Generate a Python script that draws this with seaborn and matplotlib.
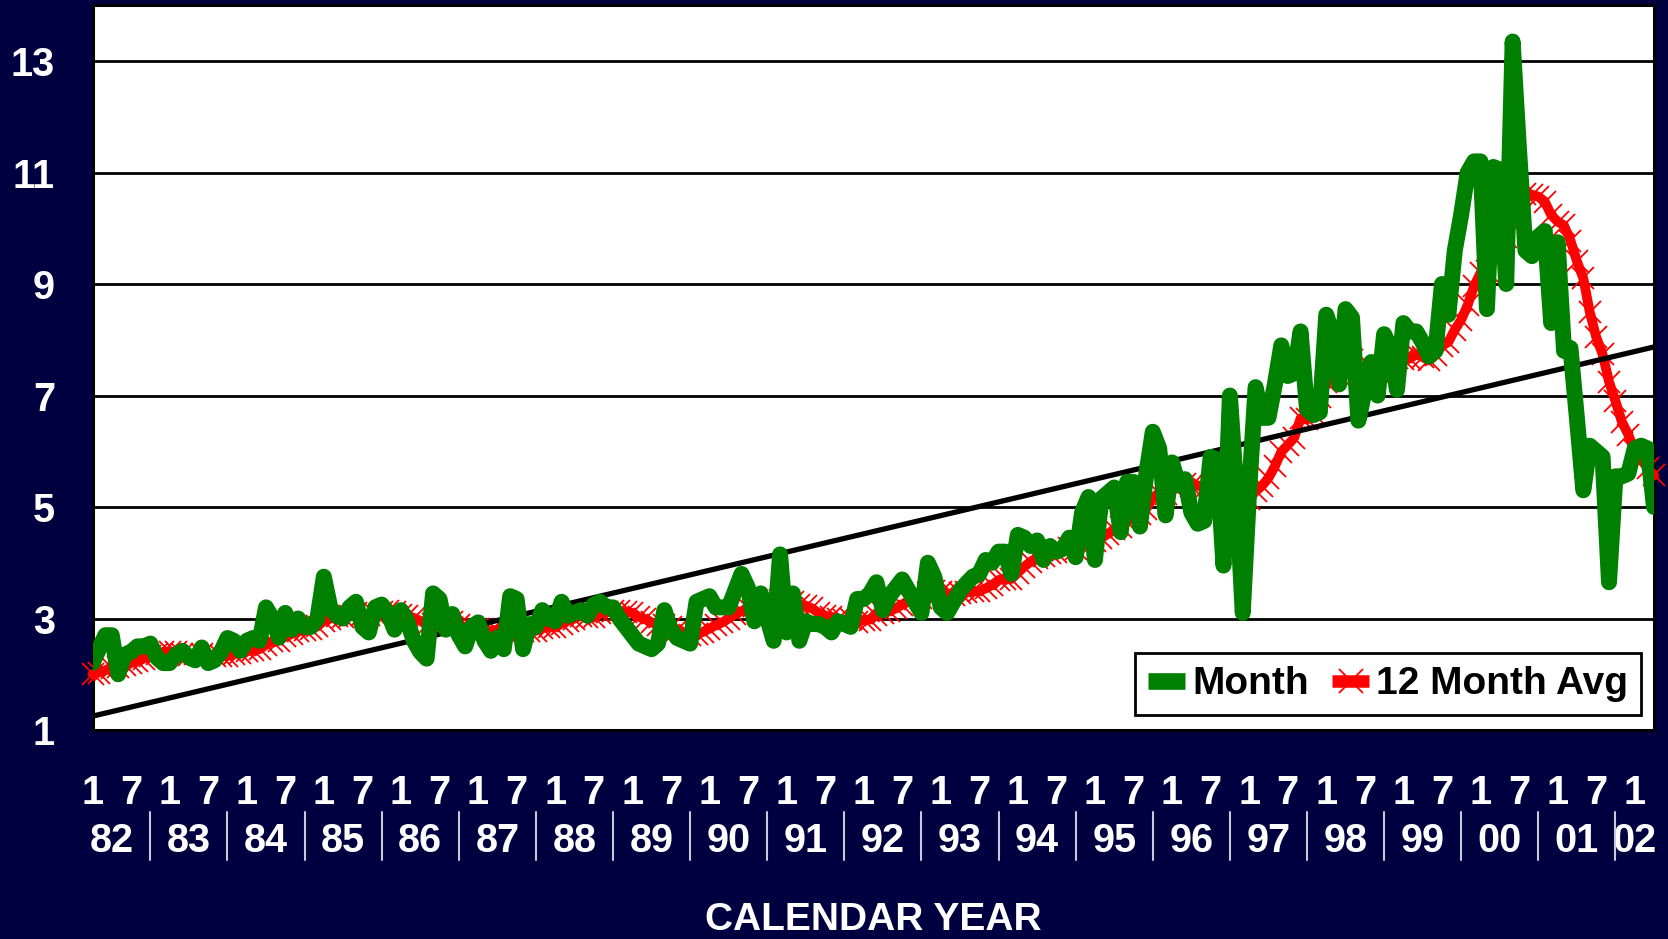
import numpy as np
import pandas as pd
import matplotlib
matplotlib.use("Agg")
import matplotlib.pyplot as plt
import seaborn as sns
from matplotlib.lines import Line2D
from matplotlib.transforms import blended_transform_factory

# ---------------- data ----------------
# Monthly values, Jan 1982 .. Apr 2002 (one row per calendar year)
monthly = [
    2.20, 2.45, 2.70, 2.70, 2.00, 2.35, 2.40, 2.50, 2.50, 2.55, 2.30, 2.20,   # 1982
    2.20, 2.35, 2.42, 2.30, 2.25, 2.48, 2.20, 2.25, 2.40, 2.65, 2.60, 2.42,   # 1983
    2.60, 2.65, 2.60, 3.20, 3.00, 2.66, 3.10, 2.80, 3.00, 2.85, 2.85, 3.00,   # 1984
    3.75, 3.20, 3.05, 3.00, 3.20, 3.30, 2.85, 2.75, 3.20, 3.25, 3.10, 2.80,   # 1985
    3.15, 2.95, 2.60, 2.40, 2.28, 3.45, 3.35, 2.80, 3.08, 2.70, 2.50, 2.85,   # 1986
    2.93, 2.60, 2.42, 2.66, 2.45, 3.40, 3.35, 2.45, 2.90, 2.85, 3.15, 3.00,   # 1987
    2.95, 3.30, 3.05, 3.10, 3.15, 3.05, 3.25, 3.30, 3.20, 3.20, 3.00, 2.85,   # 1988
    2.70, 2.55, 2.50, 2.45, 2.55, 3.15, 2.80, 2.65, 2.60, 2.55, 3.30, 3.35,   # 1989
    3.40, 3.20, 3.20, 3.20, 3.50, 3.80, 3.55, 2.95, 3.45, 3.00, 2.60, 4.15,   # 1990
    2.75, 3.45, 2.60, 2.95, 2.90, 2.90, 2.85, 2.75, 2.95, 2.90, 2.85, 3.35,   # 1991
    3.35, 3.45, 3.65, 3.15, 3.40, 3.55, 3.70, 3.50, 3.30, 3.10, 4.00, 3.75,   # 1992
    3.20, 3.10, 3.30, 3.50, 3.63, 3.75, 3.80, 4.05, 4.00, 4.20, 4.20, 3.80,   # 1993
    4.50, 4.45, 4.30, 4.40, 4.05, 4.30, 4.20, 4.25, 4.45, 4.10, 4.90, 5.18,   # 1994
    4.05, 5.15, 5.25, 5.35, 4.55, 5.45, 5.45, 4.65, 5.60, 6.35, 6.05, 4.85,   # 1995
    5.80, 5.40, 5.50, 4.90, 4.70, 4.75, 5.90, 5.85, 3.95, 7.00, 5.30, 3.10,   # 1996
    5.30, 7.15, 6.60, 6.60, 7.20, 7.90, 7.35, 7.40, 8.15, 6.75, 6.65, 6.70,   # 1997
    8.45, 8.10, 7.20, 8.55, 8.40, 6.55, 7.10, 7.60, 7.00, 8.10, 7.85, 7.10,   # 1998
    8.30, 8.15, 8.15, 7.95, 7.70, 7.80, 9.00, 8.45, 9.60, 10.25, 11.00, 11.20,  # 1999
    11.20, 8.55, 11.10, 11.05, 9.00, 13.35, 11.40, 9.60, 9.50, 9.85, 9.95, 8.30,  # 2000
    9.75, 7.80, 7.85, 6.60, 5.30, 6.10, 6.00, 5.90, 3.65, 5.55, 5.55, 5.60,   # 2001
    6.05, 6.10, 6.05, 5.00,                                                   # 2002
]

avg12 = [
    2.00, 2.03, 2.07, 2.12, 2.13, 2.17, 2.20, 2.24, 2.28, 2.32, 2.36, 2.40,
    2.40, 2.40, 2.37, 2.34, 2.36, 2.37, 2.35, 2.33, 2.33, 2.33, 2.36, 2.38,
    2.41, 2.44, 2.45, 2.53, 2.59, 2.60, 2.68, 2.72, 2.77, 2.79, 2.81, 2.86,
    2.96, 3.00, 3.04, 3.02, 3.04, 3.09, 3.07, 3.07, 3.08, 3.12, 3.14, 3.12,
    3.07, 3.05, 3.01, 2.96, 2.89, 2.90, 2.94, 2.94, 2.93, 2.89, 2.84, 2.84,
    2.82, 2.80, 2.78, 2.80, 2.82, 2.81, 2.81, 2.78, 2.77, 2.78, 2.83, 2.85,
    2.85, 2.91, 2.96, 3.00, 3.05, 3.03, 3.02, 3.09, 3.11, 3.14, 3.13, 3.12,
    3.10, 3.03, 2.99, 2.93, 2.88, 2.89, 2.85, 2.80, 2.75, 2.70, 2.72, 2.76,
    2.82, 2.88, 2.93, 3.00, 3.08, 3.13, 3.19, 3.22, 3.29, 3.33, 3.27, 3.33,
    3.28, 3.30, 3.25, 3.23, 3.18, 3.10, 3.05, 3.03, 2.99, 2.98, 3.00, 2.93,
    2.98, 2.98, 3.07, 3.09, 3.13, 3.18, 3.25, 3.32, 3.35, 3.36, 3.46, 3.49,
    3.48, 3.45, 3.42, 3.45, 3.47, 3.49, 3.49, 3.54, 3.60, 3.69, 3.71, 3.71,
    3.82, 3.93, 4.02, 4.09, 4.13, 4.17, 4.20, 4.22, 4.26, 4.25, 4.31, 4.42,
    4.39, 4.44, 4.52, 4.60, 4.64, 4.74, 4.84, 4.88, 4.97, 5.16, 5.26, 5.23,
    5.38, 5.40, 5.42, 5.38, 5.39, 5.33, 5.37, 5.47, 5.33, 5.39, 5.33, 5.18,
    5.14, 5.28, 5.38, 5.52, 5.73, 5.99, 6.11, 6.24, 6.59, 6.57, 6.68, 6.98,
    7.24, 7.32, 7.37, 7.53, 7.63, 7.52, 7.50, 7.52, 7.42, 7.53, 7.63, 7.67,
    7.65, 7.66, 7.74, 7.69, 7.63, 7.73, 7.89, 7.96, 8.18, 8.36, 8.62, 8.96,
    9.20, 9.24, 9.48, 9.74, 9.85, 10.31, 10.51, 10.61, 10.60, 10.57, 10.48, 10.24,
    10.12, 10.05, 9.78, 9.41, 9.10, 8.50, 8.05, 7.74, 7.25, 6.90, 6.53, 6.30,
    6.00, 5.85, 5.70, 5.57,
]

year_labels = ["82", "83", "84", "85", "86", "87", "88", "89", "90", "91",
               "92", "93", "94", "95", "96", "97", "98", "99", "00", "01", "02"]
month_tick_labels = ["1", "7"] * 20 + ["1"]
ytick_vals = [1, 3, 5, 7, 9, 11, 13]
series_names = ["Month", "12 Month Avg"]

# ---------------- style ----------------
NAVY = "#000040"
GREEN = "#008000"
RED = "#FF0000"

sns.set_style("white")
plt.rcParams["font.family"] = ["Liberation Sans", "DejaVu Sans"]
plt.rcParams["font.weight"] = "bold"

W, H = 1668, 939
fig = plt.figure(figsize=(W / 100, H / 100), dpi=100, facecolor=NAVY)
left, right, top, bottom = 92.5, 1654, 5.3, 730
ax = fig.add_axes([left / W, 1 - bottom / H, (right - left) / W, (bottom - top) / H])
ax.set_facecolor("white")

df = pd.DataFrame({"idx": np.arange(len(monthly)), "Month": monthly, "Avg": avg12})

sns.lineplot(data=df, x="idx", y="Avg", ax=ax, color=RED, lw=7, marker="x",
             markersize=16, markeredgewidth=1.3, markeredgecolor=RED,
             clip_on=False, zorder=3, legend=False)
sns.regplot(data=df, x="idx", y="Month", ax=ax, scatter=False, ci=None, truncate=True,
            line_kws=dict(color="black", lw=3.8, zorder=4))
sns.lineplot(data=df, x="idx", y="Month", ax=ax, color=GREEN, lw=11.5,
             solid_joinstyle="round", zorder=5, legend=False)

# ---------------- axes ----------------
n = len(monthly)
ax.set_xlim(0, n - 1)
ax.set_ylim(1, 14)
ax.set_xlabel("")
ax.set_ylabel("")

ax.set_yticks(ytick_vals)
ax.set_yticklabels([str(v) for v in ytick_vals])
ax.yaxis.grid(True, color="black", lw=2)
ax.xaxis.grid(False)
ax.set_axisbelow(True)
ax.tick_params(axis="y", length=0, pad=27, labelsize=28.5, labelcolor="white")

major = np.arange(0, len(month_tick_labels) * 6, 6)
ax.set_xticks(major)
ax.set_xticklabels(month_tick_labels)
ax.set_xticks(np.arange(0, n), minor=True)
ax.tick_params(axis="x", which="major", direction="inout", length=32, width=2,
               color="black", pad=16, labelsize=28.5, labelcolor="white")
ax.tick_params(axis="x", which="minor", direction="in", length=9, width=1.5, color="black")
for lab in ax.get_xticklabels() + ax.get_yticklabels():
    lab.set_fontweight("bold")

for s in ax.spines.values():
    s.set_color("black")
    s.set_linewidth(2.2)

# year labels and separators below the month labels
trans = blended_transform_factory(ax.transData, fig.transFigure)
year_pos = [3 + 12 * k for k in range(len(year_labels) - 1)] + [240]
for pos, lab in zip(year_pos, year_labels):
    ax.text(pos, 1 - 851.5 / H, lab, transform=trans, ha="center", va="baseline",
            fontsize=28.5, color="white", fontweight="bold", clip_on=False)
for k in range(len(year_labels) - 1):
    sx = 9 + 12 * k
    fig.add_artist(Line2D([sx, sx], [1 - 812 / H, 1 - 860 / H], transform=trans,
                          color="#C8C8D8", lw=1.5))

fig.text((left + right) / 2 / W, 1 - 930.5 / H, "CALENDAR YEAR", ha="center",
         va="baseline", fontsize=28, color="white", fontweight="bold")

# legend
h_green = Line2D([], [], color=GREEN, lw=12, solid_capstyle="butt")
h_red = Line2D([], [], color=RED, lw=9, marker="x", markersize=17, markeredgewidth=1.3,
               solid_capstyle="butt")
leg = ax.legend(handles=[h_green, h_red], labels=series_names, ncol=2,
                loc="lower right", bbox_to_anchor=(1641 / W, 1 - 715 / H),
                bbox_transform=fig.transFigure, fontsize=28, frameon=True,
                fancybox=False, edgecolor="black", framealpha=1, borderpad=0.33,
                handlelength=0.95, handletextpad=0.18, columnspacing=0.6,
                borderaxespad=0)
leg.get_frame().set_linewidth(2)
for t in leg.get_texts():
    t.set_color("black")
    t.set_fontweight("bold")
leg.set_zorder(10)

ax.set_xlim(0, n - 1)
ax.set_ylim(1, 14)
fig.savefig("out.png", dpi=100, facecolor=NAVY)
